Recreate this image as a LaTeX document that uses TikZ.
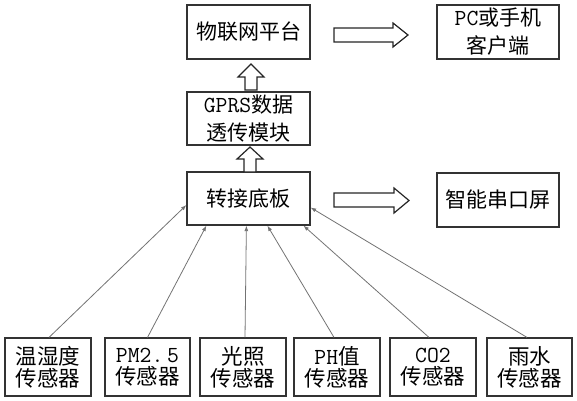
\documentclass[tikz,border=0pt]{standalone}
\usepackage{fontspec}
\setmainfont{Noto Sans CJK SC}
\usetikzlibrary{calc,arrows.meta}
\newcommand\latn[1]{{\ttfamily\fontsize{23}{22}\selectfont #1}}
\tikzset{
  box/.style={draw=black!80, line width=1.2pt, align=center, inner sep=0pt,
    font=\fontsize{21}{28}\selectfont},
  sbox/.style={box, minimum width=86pt, minimum height=58pt,
    font=\fontsize{21.5}{22}\selectfont},
  link/.style={draw=black!55, line width=0.8pt, -{Latex[length=5.5pt,width=4pt]}},
  hollow/.style={draw=black!85, line width=1.2pt, fill=white, line join=miter}
}
\begin{document}
\begin{tikzpicture}[x=1pt,y=-1pt]
\useasboundingbox (0,0) rectangle (577,400);
% top row
\node[box, minimum width=123pt, minimum height=54pt] (iot) at (248.5,32) {物联网平台};
\node[box, minimum width=122pt, minimum height=54pt] (pc) at (498,32) {\latn{PC}或手机\\客户端};
\node[box, minimum width=123pt, minimum height=53pt] (gprs) at (248.5,118.5) {\latn{GPRS}数据\\透传模块};
\node[box, minimum width=123pt, minimum height=53pt] (hub) at (248.5,198.5) {转接底板};
\node[box, minimum width=122pt, minimum height=54pt] (scr) at (498,200) {智能串口屏};
% sensors
\node[sbox] (b1) at (48,367) {温湿度\\传感器};
\node[sbox, minimum width=85pt] (b2) at (147.5,367) {\latn{PM2.\,5}\\传感器};
\node[sbox] (b3) at (243,367) {光照\\传感器};
\node[sbox] (b4) at (337,367) {\latn{PH}值\\传感器};
\node[sbox] (b5) at (433,367) {\latn{CO2}\\传感器};
\node[sbox, minimum width=85pt] (b6) at (529.5,367) {雨水\\传感器};
% hollow block arrows
\draw[hollow] (334,28)--(393,28)--(393,23)--(408,35)--(393,47)--(393,42)--(334,42)--cycle;
\draw[hollow] (334,193)--(394,193)--(394,188)--(409,200.5)--(394,213)--(394,207)--(334,207)--cycle;
\draw[hollow] (245,90)--(245,77)--(238,77)--(251,64)--(264,77)--(257,77)--(257,90)--cycle;
\draw[hollow] (244,172)--(244,159)--(237,159)--(250,147)--(263,159)--(256,159)--(256,172)--cycle;
% sensor links
\draw[link] ($(b1.north)+(1,0)$) -- ($(hub.west)+(0,6.5)$);
\draw[link] (b2.north) -- ($(hub.south west)+(20,0)$);
\draw[link] ($(b3.north)+(2,0)$) -- ($(hub.south west)+(60,0)$);
\draw[link] ($(b4.north)+(-3,0)$) -- ($(hub.south west)+(81,0)$);
\draw[link] ($(b5.north)+(-4,0)$) -- ($(hub.south west)+(117,0)$);
\draw[link] ($(b6.north)+(-2.5,0)$) -- ($(hub.east)+(0,9)$);
\end{tikzpicture}
\end{document}
